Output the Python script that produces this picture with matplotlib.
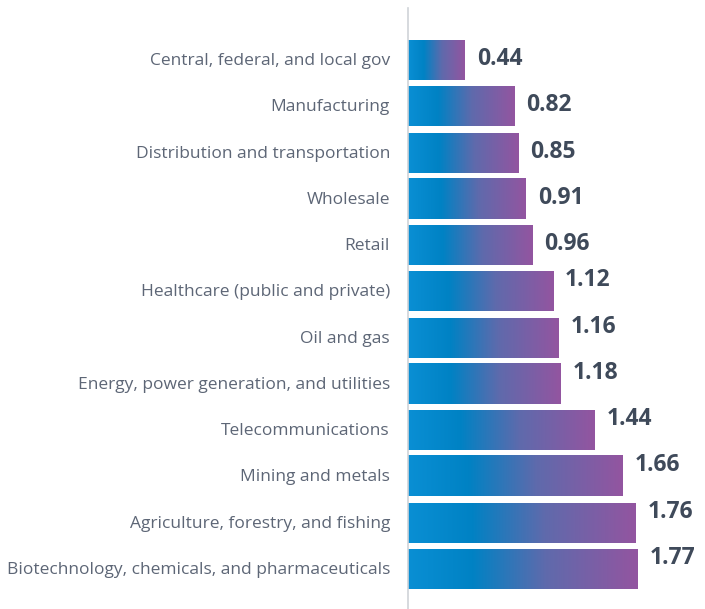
import numpy as np
import matplotlib.pyplot as plt
from matplotlib.colors import LinearSegmentedColormap

sectors = [
    'Central, federal, and local gov',
    'Manufacturing',
    'Distribution and transportation',
    'Wholesale',
    'Retail',
    'Healthcare (public and private)',
    'Oil and gas',
    'Energy, power generation, and utilities',
    'Telecommunications',
    'Mining and metals',
    'Agriculture, forestry, and fishing',
    'Biotechnology, chemicals, and pharmaceuticals',
]
values = [0.44, 0.82, 0.85, 0.91, 0.96, 1.12, 1.16, 1.18, 1.44, 1.66, 1.76, 1.77]

W, H = 705, 609
fig = plt.figure(figsize=(W / 100, H / 100), dpi=100)
ax = fig.add_axes([408 / W, 0, 1 - 408 / W, (H - 8) / H])

grad = LinearSegmentedColormap.from_list(
    'bar', [(0.0, '#0a8fd4'), (0.28, '#0082c4'), (0.6, '#5f6aac'), (1.0, '#9355a0')])
ramp = np.linspace(0, 1, 256).reshape(1, -1)

px_x = 129.5   # pixels per unit
px_y = 46.27   # pixels per row
bh = 40 / px_y
ytop = -52 / px_y

for i, (name, v) in enumerate(zip(sectors, values)):
    ax.imshow(ramp, cmap=grad, aspect='auto', interpolation='bilinear',
              extent=[0, v, i + bh / 2, i - bh / 2], zorder=2)
    dy = -1 / px_y if v < 1 else -11 / px_y
    ax.text(v + 12 / px_x, i + dy, f'{v:.2f}', ha='left', va='center',
            fontsize=16.5, fontweight='bold', color='#3f4a5a', family='Open Sans')
    ax.text(-18 / px_x, i + 1 / px_y, name, ha='right', va='center', fontsize=12.5,
            color='#5d6676', family='Open Sans')

ax.set_xlim(0, (W - 408) / px_x)
ax.set_ylim(ytop + (H - 8) / px_y, ytop)
ax.axis('off')
ax.plot([0, 0], [ytop, ytop + (H - 8) / px_y], color='#cfd3d8', lw=1.2,
        clip_on=False, zorder=3)

fig.savefig('out.png', dpi=100)
